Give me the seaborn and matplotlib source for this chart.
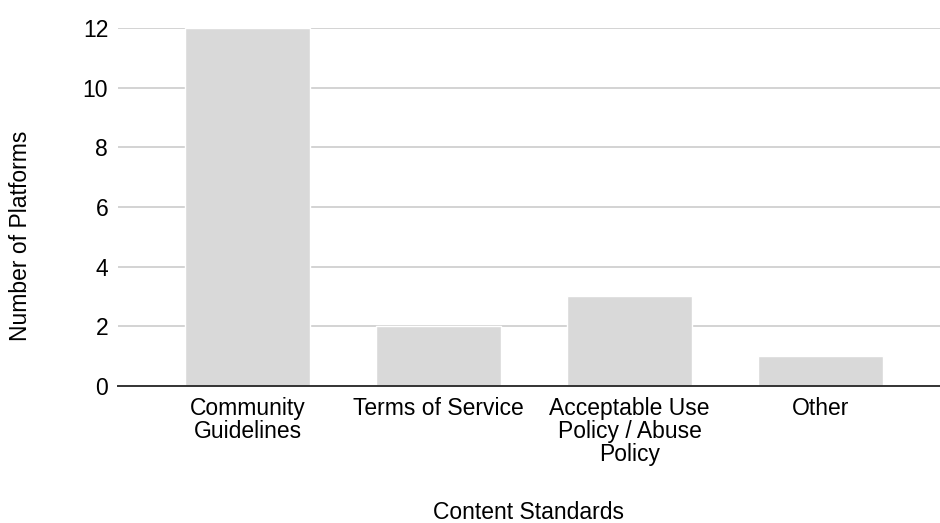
import matplotlib
matplotlib.use("Agg")
import matplotlib.pyplot as plt
import seaborn as sns
import pandas as pd

categories = ["Community\nGuidelines", "Terms of Service",
              "Acceptable Use\nPolicy / Abuse\nPolicy", "Other"]
counts = [12, 2, 3, 1]
y_ticks = [0, 2, 4, 6, 8, 10, 12]

df = pd.DataFrame({"standard": categories, "platforms": counts})

sns.set_theme(style="white")
plt.rcParams["font.family"] = ["Liberation Sans", "DejaVu Sans"]

fig = plt.figure(figsize=(9.4, 5.23), dpi=100)
ax = fig.add_axes([0.1255, 0.262, 0.8745, 0.6845])

sns.barplot(data=df, x="standard", y="platforms", color="#d9d9d9",
            saturation=1, width=0.655, ax=ax, zorder=2)

ax.set_ylim(0, 12)
ax.set_xlim(-0.68, 3.627)
ax.set_yticks(y_ticks)
ax.set_yticklabels([str(t) for t in y_ticks])
ax.yaxis.grid(True, color="#cccccc", linewidth=1.2, zorder=0)
ax.set_axisbelow(True)

for side in ["top", "right", "left"]:
    ax.spines[side].set_visible(False)
ax.spines["bottom"].set_color("#333333")
ax.spines["bottom"].set_linewidth(1.4)
ax.spines["bottom"].set_zorder(3)

ax.tick_params(axis="both", length=0, labelsize=16.5, colors="#000000")
ax.tick_params(axis="y", pad=7)
ax.tick_params(axis="x", pad=8)
for lbl in ax.get_xticklabels():
    lbl.set_linespacing(1.0)

ax.set_xlabel("Content Standards", fontsize=16.5, color="#000000")
ax.set_ylabel("Number of Platforms", fontsize=16.5, color="#000000")
ax.xaxis.set_label_coords(0.5, -0.322)
ax.yaxis.set_label_coords(-0.105, 0.42)

fig.savefig("out.png", dpi=100, facecolor="white")
